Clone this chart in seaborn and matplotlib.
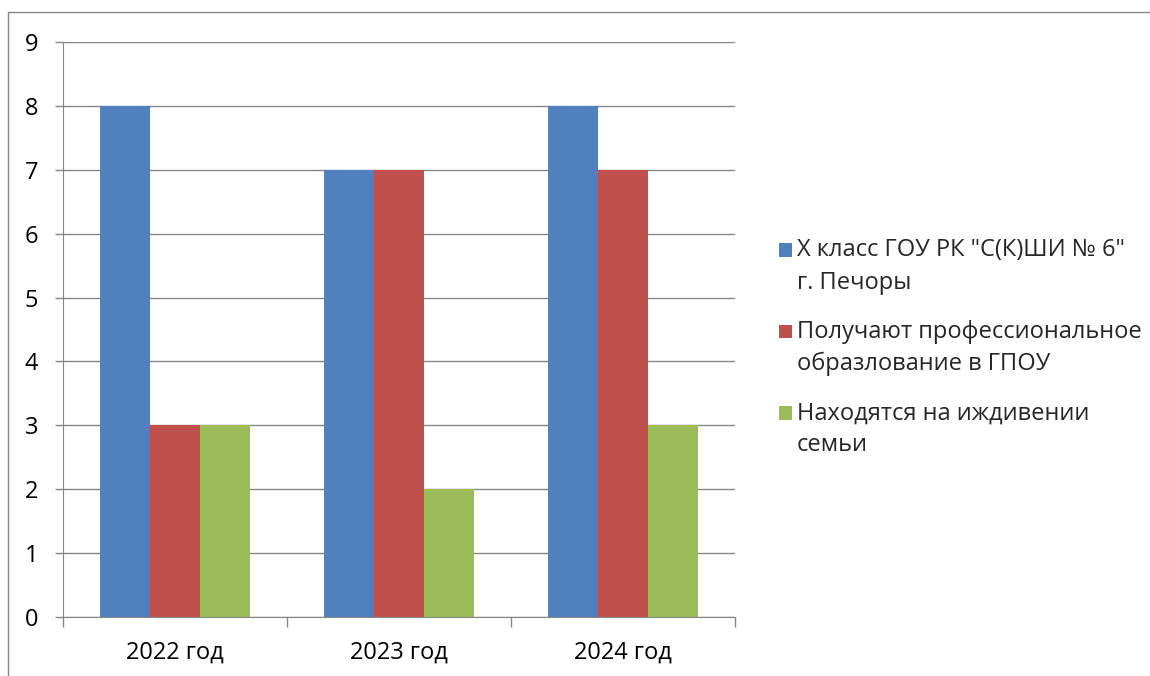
import matplotlib
matplotlib.use("Agg")
import matplotlib.pyplot as plt
from matplotlib.lines import Line2D
from matplotlib.patches import Patch, Rectangle
from matplotlib.legend_handler import HandlerBase
import seaborn as sns
import pandas as pd

categories = ["2022 год", "2023 год", "2024 год"]
series_names = [
    'X класс ГОУ РК "С(К)ШИ № 6"\nг. Печоры',
    "Получают профессиональное\nобразлование в ГПОУ",
    "Находятся на иждивении\nсемьи",
]
values_class = [8, 7, 8]
values_prof = [3, 7, 7]
values_family = [3, 2, 3]
colors = ["#4F81BD", "#C0504D", "#9BBB59"]
y_ticks = [0, 1, 2, 3, 4, 5, 6, 7, 8, 9]

rows = []
for name, vals in zip(series_names, [values_class, values_prof, values_family]):
    for c, v in zip(categories, vals):
        rows.append({"cat": c, "series": name, "value": v})
df = pd.DataFrame(rows)

sns.set_style("white")
plt.rcParams["font.family"] = ["Open Sans", "DejaVu Sans"]

FS = 17
LS = 1.45

fig = plt.figure(figsize=(11.5, 6.76), dpi=100)
ax = fig.add_axes([63 / 1150, 1 - 617 / 676, (735 - 63) / 1150, (617 - 42) / 676])

sns.barplot(data=df, x="cat", y="value", hue="series", order=categories,
            hue_order=series_names, palette=colors, width=0.667,
            linewidth=0, edgecolor="none", saturation=1, ax=ax, legend=False)

grid_c = "#868686"
ax.set_ylim(0, 9)
ax.set_xlim(-0.5, 2.5)
ax.set_yticks(y_ticks)
ax.yaxis.grid(True, color=grid_c, linewidth=1)
ax.set_axisbelow(True)
for s in ["top", "right"]:
    ax.spines[s].set_visible(False)
ax.spines["left"].set_color(grid_c)
ax.spines["bottom"].set_color(grid_c)
ax.set_xlabel("")
ax.set_ylabel("")
ax.tick_params(axis="y", length=6, color=grid_c, width=1, pad=12, labelsize=FS, labelcolor="black", left=True)
ax.set_xticks([-0.5, 0.5, 1.5, 2.5], minor=True)
ax.tick_params(axis="x", which="major", length=0, pad=17, labelsize=FS, labelcolor="black")
ax.tick_params(axis="x", which="minor", length=7, color=grid_c, width=1, bottom=True)


class TopSquare(HandlerBase):
    def create_artists(self, legend, orig_handle, xdescent, ydescent, width, height, fontsize, trans):
        off = 0.5 * LS * fontsize
        r = Rectangle((-xdescent, -ydescent + off), width, height,
                      facecolor=orig_handle.get_facecolor(), edgecolor="none", transform=trans)
        return [r]


handles = [Patch(facecolor=c, edgecolor="none") for c in colors]
leg = fig.legend(handles, series_names, loc="upper left",
                 bbox_to_anchor=(770 / 1150, 1 - 229 / 676),
                 frameon=False, fontsize=FS, handlelength=0.52, handleheight=0.52,
                 handletextpad=0.22, labelspacing=1.06, borderaxespad=0,
                 handler_map={Patch: TopSquare()})
for t in leg.get_texts():
    t.set_linespacing(LS)

fig.add_artist(Line2D([8 / 1150, 8 / 1150], [0, 1 - 12 / 676], transform=fig.transFigure,
                      color=grid_c, linewidth=1))
fig.add_artist(Line2D([8 / 1150, 1], [1 - 12 / 676, 1 - 12 / 676], transform=fig.transFigure,
                      color=grid_c, linewidth=1))

fig.savefig("out.png", dpi=100)
